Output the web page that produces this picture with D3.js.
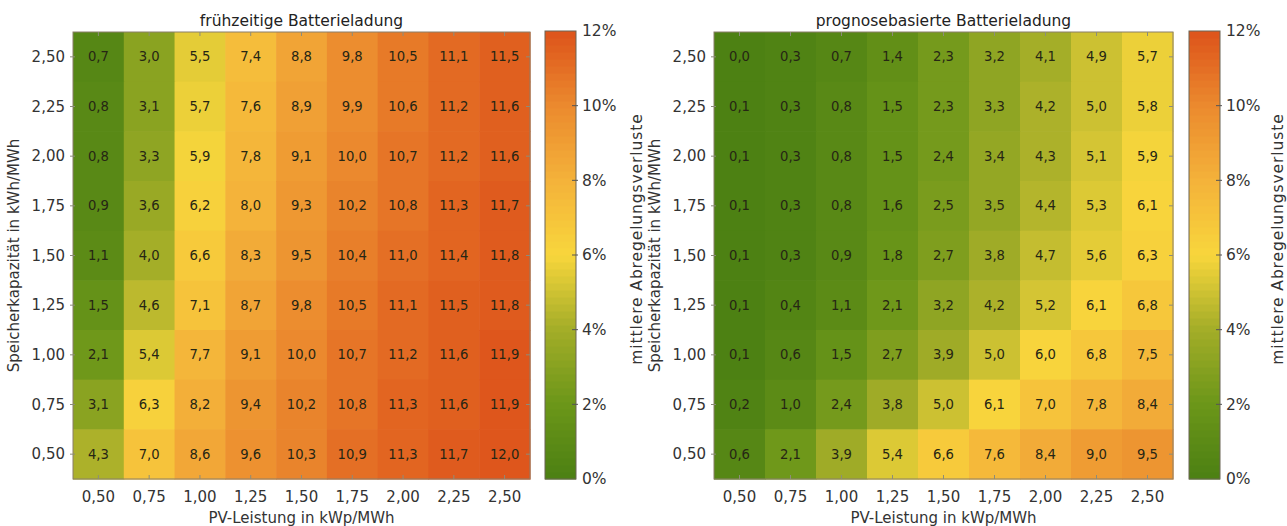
<!DOCTYPE html>
<html><head><meta charset="utf-8">
<script src="https://cdn.jsdelivr.net/npm/d3@7"></script>
<style>
body{margin:0;background:#fff;}
text{font-family:"DejaVu Sans",Verdana,sans-serif;}
</style></head>
<body>
<svg id="chart" width="1287" height="526"></svg>
<script>
const pvLabels = ["0,50","0,75","1,00","1,25","1,50","1,75","2,00","2,25","2,50"];
const storageLabels = ["2,50","2,25","2,00","1,75","1,50","1,25","1,00","0,75","0,50"];
const cbTicks = [0,2,4,6,8,10,12];

const earlyValues = [
 [0.7,3.0,5.5,7.4,8.8,9.8,10.5,11.1,11.5],
 [0.8,3.1,5.7,7.6,8.9,9.9,10.6,11.2,11.6],
 [0.8,3.3,5.9,7.8,9.1,10.0,10.7,11.2,11.6],
 [0.9,3.6,6.2,8.0,9.3,10.2,10.8,11.3,11.7],
 [1.1,4.0,6.6,8.3,9.5,10.4,11.0,11.4,11.8],
 [1.5,4.6,7.1,8.7,9.8,10.5,11.1,11.5,11.8],
 [2.1,5.4,7.7,9.1,10.0,10.7,11.2,11.6,11.9],
 [3.1,6.3,8.2,9.4,10.2,10.8,11.3,11.6,11.9],
 [4.3,7.0,8.6,9.6,10.3,10.9,11.3,11.7,12.0]
];
const forecastValues = [
 [0.0,0.3,0.7,1.4,2.3,3.2,4.1,4.9,5.7],
 [0.1,0.3,0.8,1.5,2.3,3.3,4.2,5.0,5.8],
 [0.1,0.3,0.8,1.5,2.4,3.4,4.3,5.1,5.9],
 [0.1,0.3,0.8,1.6,2.5,3.5,4.4,5.3,6.1],
 [0.1,0.3,0.9,1.8,2.7,3.8,4.7,5.6,6.3],
 [0.1,0.4,1.1,2.1,3.2,4.2,5.2,6.1,6.8],
 [0.1,0.6,1.5,2.7,3.9,5.0,6.0,6.8,7.5],
 [0.2,1.0,2.4,3.8,5.0,6.1,7.0,7.8,8.4],
 [0.6,2.1,3.9,5.4,6.6,7.6,8.4,9.0,9.5]
];
const titles = ["frühzeitige Batterieladung","prognosebasierte Batterieladung"];

const svg = d3.select("#chart");
const NB = 64;
const cmap = d3.scaleLinear()
  .domain([0,2,4,6,8,10,12])
  .range(["#4b8013","#6b9619","#a3ad28","#f8d63c","#f4b23a","#eb8a2e","#dd531b"])
  .interpolate(d3.interpolateRgb).clamp(true);
function qcolor(v){
  const q = Math.max(0, Math.min(NB-1, Math.floor(v/12*NB)));
  return cmap((q+0.5)/NB*12);
}

function panel(data, title, x0, x1, cb0, cbLabelX){
  const y0 = 32, y1 = 479;
  const g = svg.append("g");
  const x = d3.scaleBand().domain(pvLabels).range([x0,x1]);
  const y = d3.scaleBand().domain(storageLabels).range([y0,y1]);
  data.forEach((row,ri)=>{
    row.forEach((v,ci)=>{
      g.append("rect").attr("x",x(pvLabels[ci])).attr("y",y(storageLabels[ri]))
        .attr("width",x.bandwidth()+0.6).attr("height",y.bandwidth()+0.6)
        .attr("fill",qcolor(v));
      g.append("text").attr("x",x(pvLabels[ci])+x.bandwidth()/2)
        .attr("y",y(storageLabels[ri])+y.bandwidth()/2)
        .attr("dy","0.35em").attr("text-anchor","middle")
        .attr("font-size",13.2).attr("fill","#262614")
        .text(v.toFixed(1).replace(".",","));
    });
  });
  g.append("rect").attr("x",x0).attr("y",y0).attr("width",x1-x0).attr("height",y1-y0)
    .attr("fill","none").attr("stroke","#8a7f6a").attr("stroke-width",1);
  const tk = "#8c8c7a";
  pvLabels.forEach(l=>{
    const cx = x(l)+x.bandwidth()/2;
    g.append("line").attr("x1",cx).attr("x2",cx).attr("y1",y0).attr("y2",y0+4).attr("stroke",tk);
    g.append("line").attr("x1",cx).attr("x2",cx).attr("y1",y1).attr("y2",y1-4).attr("stroke",tk);
    g.append("text").attr("x",cx).attr("y",497).attr("dy","0.35em").attr("text-anchor","middle")
      .attr("font-size",15).attr("fill","#333").text(l);
  });
  storageLabels.forEach(l=>{
    const cy = y(l)+y.bandwidth()/2;
    g.append("line").attr("x1",x0-3).attr("x2",x0+2).attr("y1",cy).attr("y2",cy).attr("stroke",tk);
    g.append("line").attr("x1",x1).attr("x2",x1-4).attr("y1",cy).attr("y2",cy).attr("stroke",tk);
    g.append("text").attr("x",x0-8).attr("y",cy).attr("dy","0.35em").attr("text-anchor","end")
      .attr("font-size",15).attr("fill","#333").text(l);
  });
  g.append("text").attr("x",(x0+x1)/2).attr("y",21).attr("dy","0.35em").attr("text-anchor","middle")
    .attr("font-size",15.5).attr("fill","#222").text(title);
  g.append("text").attr("x",(x0+x1)/2).attr("y",518).attr("dy","0.35em").attr("text-anchor","middle")
    .attr("font-size",15).attr("fill","#333").text("PV-Leistung in kWp/MWh");
  g.append("text").attr("transform",`translate(${x0-59},${(y0+y1)/2}) rotate(-90)`)
    .attr("dy","0.35em").attr("text-anchor","middle")
    .attr("font-size",15).attr("fill","#333").text("Speicherkapazität in kWh/MWh");
  // colorbar
  const cbw = 31, cbTop = 31, cbBot = 479;
  const cy = d3.scaleLinear().domain([0,12]).range([cbBot,cbTop]);
  d3.range(NB).forEach(i=>{
    const v0 = i/NB*12, v1=(i+1)/NB*12;
    g.append("rect").attr("x",cb0).attr("y",cy(v1)).attr("width",cbw).attr("height",cy(v0)-cy(v1)+0.5)
      .attr("fill",cmap((i+0.5)/NB*12));
  });
  g.append("rect").attr("x",cb0).attr("y",cbTop).attr("width",cbw).attr("height",cbBot-cbTop)
    .attr("fill","none").attr("stroke","#6b6455").attr("stroke-width",1);
  cbTicks.forEach(t=>{
    if(t>0 && t<12) g.append("line").attr("x1",cb0+cbw-4).attr("x2",cb0+cbw+2).attr("y1",cy(t)).attr("y2",cy(t)).attr("stroke","#555");
    g.append("text").attr("x",cb0+cbw+6).attr("y",cy(t)).attr("dy","0.35em")
      .attr("font-size",15.5).attr("fill","#333").text(t+"%");
  });
  g.append("text").attr("transform",`translate(${cbLabelX},239) rotate(-90)`)
    .attr("dy","0.3em").attr("text-anchor","middle")
    .attr("font-size",15.5).attr("letter-spacing","0.9px").attr("fill","#333").text("mittlere Abregelungsverluste");
}

panel(earlyValues, titles[0], 73, 530, 545, 637);
panel(forecastValues, titles[1], 714, 1173, 1189, 1278);
</script>
</body></html>
